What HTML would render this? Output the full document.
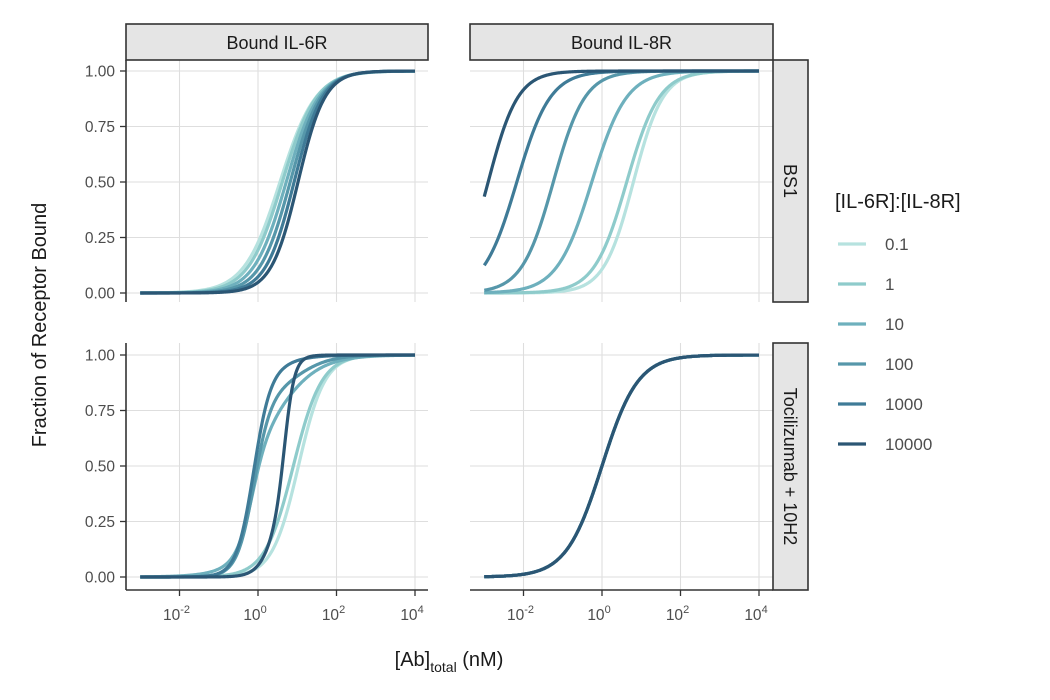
<!DOCTYPE html>
<html><head><meta charset="utf-8"><style>
body{margin:0;background:#fff;}
svg{display:block;font-family:"Liberation Sans",sans-serif;}
</style></head><body>
<svg id="chart" width="1050" height="700"></svg>
<script>
// Data: series ratios and fitted curve parameters (log10 midpoint, Hill slope)
const ratios = ["0.1","1","10","100","1000","10000"];
const colors = ["#b6e2df","#8ecbcb","#6eb0bd","#5697aa","#3f7b97","#2b5674"];
// panel: BS1 / Bound IL-6R
const bs1il6Mid = [0.56,0.62,0.72,0.82,0.92,1.02];
const bs1il6Hill = [0.95,1.0,1.05,1.12,1.2,1.27];
// panel: BS1 / Bound IL-8R
const bs1il8Mid = [0.8,0.63,-0.26,-1.24,-2.17,-2.9];
const bs1il8Hill = [1.15,1.05,0.98,1.08,1.02,1.15];
// panel: Tocilizumab + 10H2 / Bound IL-6R (two components: weight of first, mids, hills)
const tocIl6W = [1,1,0.5,0.82,0.93,0.3];
const tocIl6Mid1 = [1.03,0.9,-0.15,-0.1,-0.11,0.35];
const tocIl6Hill1 = [1.3,1.2,2.2,2.0,2.0,2.0];
const tocIl6Mid2 = [1.03,0.9,0.5,1.0,0.6,0.68];
const tocIl6Hill2 = [1.3,1.2,0.8,1.0,1.0,3.5];
// panel: Tocilizumab + 10H2 / Bound IL-8R
const tocIl8Mid = [0,0,0,0,0,0];
const tocIl8Hill = [0.95,0.95,0.95,0.95,0.95,0.95];
const xTickExp = [-2,0,2,4];
const yTicks = [0,0.25,0.5,0.75,1];
const yTickLabels = ["0.00","0.25","0.50","0.75","1.00"];
const xMin=-3, xMax=4;

const NS="http://www.w3.org/2000/svg";
const svg=document.getElementById('chart');
function mk(tag,attrs,parent){const e=document.createElementNS(NS,tag);for(const k in attrs)e.setAttribute(k,attrs[k]);(parent||svg).appendChild(e);return e;}
const cols=[{x0:126,x1:428,zero:258},{x0:470,x1:773,zero:602}];
const rows=[{y0:60,y1:302,one:71,zero:293},{y0:343,y1:590,one:355,zero:577}];
const dec=39.25;
function sx(c,l){return cols[c].zero+l*dec;}
function sy(r,v){return rows[r].zero+(rows[r].one-rows[r].zero)*v;}
function hill(l,m,n){return 1/(1+Math.pow(10,(m-l)*n));}
function val(r,c,i,l){
  if(r===0&&c===0)return hill(l,bs1il6Mid[i],bs1il6Hill[i]);
  if(r===0&&c===1)return hill(l,bs1il8Mid[i],bs1il8Hill[i]);
  if(r===1&&c===0)return tocIl6W[i]*hill(l,tocIl6Mid1[i],tocIl6Hill1[i])+(1-tocIl6W[i])*hill(l,tocIl6Mid2[i],tocIl6Hill2[i]);
  return hill(l,tocIl8Mid[i],tocIl8Hill[i]);
}
const panelNames=[["panel-bs1-il6r","panel-bs1-il8r"],["panel-toc-il6r","panel-toc-il8r"]];
for(let r=0;r<2;r++)for(let c=0;c<2;c++){
  const g=mk('g',{});
  
  
  const R=rows[r],C=cols[c];
  yTicks.forEach(t=>{const ln=mk('line',{x1:C.x0,x2:C.x1,y1:sy(r,t),y2:sy(r,t),stroke:'#dedede','stroke-width':1.1},g);
    });
  xTickExp.forEach(e=>{const ln=mk('line',{x1:sx(c,e),x2:sx(c,e),y1:R.y0,y2:R.y1,stroke:'#dedede','stroke-width':1.1},g);
    });
  for(let i=0;i<ratios.length;i++){
    let d='';
    for(let k=0;k<=350;k++){const l=xMin+(xMax-xMin)*k/350;d+=(k?'L':'M')+sx(c,l).toFixed(2)+','+sy(r,val(r,c,i,l)).toFixed(2);}
    const p=mk('path',{d:d,fill:'none',stroke:colors[i],'stroke-width':3.2,'stroke-linecap':'butt'},g);
    
    
  }
}
// strips top
const stripTop=["Bound IL-6R","Bound IL-8R"];
for(let c=0;c<2;c++){
  const rc=mk('rect',{x:cols[c].x0,y:24,width:cols[c].x1-cols[c].x0,height:36,fill:'#e5e5e5',stroke:'#333','stroke-width':1.6});
  
  const t=mk('text',{x:(cols[c].x0+cols[c].x1)/2,y:49,'text-anchor':'middle','font-size':18,fill:'#1a1a1a'});t.textContent=stripTop[c];
  
}
const stripRight=["BS1","Tocilizumab + 10H2"];
for(let r=0;r<2;r++){
  const rc=mk('rect',{x:773,y:rows[r].y0,width:35,height:rows[r].y1-rows[r].y0,fill:'#e5e5e5',stroke:'#333','stroke-width':1.6});
  
  const cy=(rows[r].y0+rows[r].y1)/2;
  const t=mk('text',{x:790,y:cy,'text-anchor':'middle','dominant-baseline':'central','font-size':18,fill:'#1a1a1a',transform:'rotate(90 790 '+cy+')'});t.textContent=stripRight[r];
  
}
// y axes
for(let r=0;r<2;r++){
  const a=mk('line',{x1:126,x2:126,y1:rows[r].y0,y2:rows[r].y1,stroke:'#333','stroke-width':1.6});
  
  yTicks.forEach((t,j)=>{mk('line',{x1:120,x2:126,y1:sy(r,t),y2:sy(r,t),stroke:'#333','stroke-width':1.3});
    const tx=mk('text',{x:115,y:sy(r,t)+5.5,'text-anchor':'end','font-size':15.5,fill:'#4d4d4d'});tx.textContent=yTickLabels[j];
    });
}
// x axes
for(let c=0;c<2;c++){
  const a=mk('line',{x1:cols[c].x0,x2:cols[c].x1,y1:590,y2:590,stroke:'#333','stroke-width':1.6});
  
  xTickExp.forEach(e=>{const x=sx(c,e);mk('line',{x1:x,x2:x,y1:590,y2:596,stroke:'#333','stroke-width':1.3});
    const tx=mk('text',{x:x-3,y:620,'text-anchor':'middle','font-size':15.5,fill:'#4d4d4d'});
    
    tx.textContent='10';const s=mk('tspan',{dy:-7,'font-size':11},tx);s.textContent=String(e);});
}
// axis titles
const xt=mk('text',{x:449,y:666,'text-anchor':'middle','font-size':20,fill:'#1a1a1a'});

xt.textContent='[Ab]';const sb=mk('tspan',{dy:6,'font-size':14},xt);sb.textContent='total';const rest=mk('tspan',{dy:-6},xt);rest.textContent=' (nM)';
const yt=mk('text',{x:46,y:325,'text-anchor':'middle','font-size':20,fill:'#1a1a1a',transform:'rotate(-90 46 325)'});
yt.textContent='Fraction of Receptor Bound';
// legend
const lt=mk('text',{x:835,y:208,'font-size':20,fill:'#1a1a1a'});lt.textContent='[IL-6R]:[IL-8R]';

ratios.forEach((rt,i)=>{const y=244+i*40;
  const g=mk('g',{});
  mk('line',{x1:838,x2:866,y1:y,y2:y,stroke:colors[i],'stroke-width':3.2},g);
  const t=mk('text',{x:885,y:y+6,'font-size':17,fill:'#4d4d4d'},g);t.textContent=rt;});
</script>
</body></html>
